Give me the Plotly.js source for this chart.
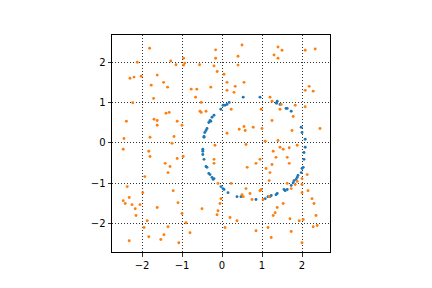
<!DOCTYPE html>
<html>
<head>
<meta charset="utf-8">
<script src="https://cdn.plot.ly/plotly-3.0.1.min.js"></script>
<style>html,body{margin:0;padding:0;background:#fff;}#chart{width:432px;height:288px;}</style>
</head>
<body>
<div id="chart"></div>
<script>
// Blue series: points on a ring
const ringX = [0.53,0.95,0.18,0.125,0.075,0.025,-0.03,-0.2,-0.25,-0.28,-0.3,-0.33,-0.375,-0.4,-0.43,-0.45,-0.45,-0.48,-0.48,-0.48,-0.45,-0.4,-0.375,-0.33,-0.3,-0.25,-0.22,-0.2,-0.025,0.025,0.05,0.15,0.375,0.475,0.85,1.08,1.15,1.2,1.23,1.35,1.38,1.55,1.58,1.63,1.73,1.78,1.8,1.85,1.88,1.9,1.98,2.0,2.03,2.05,2.05,2.08,2.08,2.0,1.98,1.73,1.6,1.63,1.45,1.36,1.38];
const ringY = [1.14,1.14,1.01,0.96,0.94,0.94,0.84,0.69,0.64,0.54,0.56,0.51,0.36,0.31,0.26,0.16,0.14,-0.16,-0.21,-0.29,-0.41,-0.59,-0.61,-0.76,-0.79,-0.86,-0.91,-0.89,-1.09,-1.14,-1.16,-1.24,-1.34,-1.34,-1.41,-1.39,-1.34,-1.34,-1.31,-1.29,-1.26,-1.16,-1.19,-1.16,-1.06,-0.99,-0.94,-0.91,-0.86,-0.81,-0.74,-0.64,-0.61,-0.41,-0.24,-0.11,0.09,0.26,0.39,0.79,0.86,0.86,0.96,0.99,1.04];

// Orange series: scattered points
const scatX = [-1.81,-2.12,-1.28,-1.15,-0.96,-0.93,-0.96,-0.56,-0.16,-0.16,-0.2,-0.12,-2.3,-2.2,-2.02,-1.62,-1.77,-1.46,-1.36,-1.71,-2.23,-0.77,-0.63,-0.66,-0.52,-0.28,0.5,0.4,0.4,0.05,0.125,0.55,0.33,0.125,0.3,1.4,1.5,1.3,1.4,2.08,2.33,2.18,2.08,2.28,1.2,1.25,1.48,1.83,2.08,1.45,0.98,0.23,-2.39,-2.45,-2.47,-1.7,-1.62,-1.62,-1.4,-1.32,-1.12,-1.0,-1.8,-1.2,-1.25,-1.83,-1.8,-1.12,-0.97,-1.42,-1.3,-1.35,-1.93,-0.55,-0.52,-0.4,-0.175,-0.2,-0.2,-0.1,1.78,1.25,1.75,2.45,0.55,0.43,0.58,0.78,1.0,0.125,1.08,1.4,0.6,1.45,1.53,1.68,1.88,1.28,1.63,1.35,0.95,0.85,1.68,0.63,1.25,1.1,1.2,2.13,2.0,1.18,1.63,0.23,-2.37,-1.98,-1.22,-2.32,-2.47,-2.42,-2.25,-2.05,-2.17,-1.62,-1.1,-2.15,-1.0,-1.87,-0.9,-1.95,-1.35,-1.45,-1.83,-1.53,-2.32,-1.08,-0.8,-0.5,-0.1,-0.125,-0.05,0.6,0.98,0.95,0.7,0.5,0.53,0.75,1.03,1.18,-0.025,0.2,0.375,0.075,0.85,1.15,1.23,1.28,1.33,1.38,1.53,1.7,1.73,1.93,2.03,2.0,1.73,1.83,1.88,2.0,2.0,2.15,2.25,2.3,2.35,2.28,2.38];
const scatY = [2.36,2.01,2.04,1.95,2.11,1.99,1.94,1.95,2.32,2.11,1.92,1.78,1.61,1.64,1.66,1.69,1.44,1.51,1.39,1.11,1.0,1.34,1.34,1.14,1.01,1.39,2.44,2.16,1.94,1.71,1.51,1.51,1.41,1.31,1.26,2.39,2.31,2.19,2.11,2.31,2.34,1.41,1.31,1.29,1.14,1.04,0.96,0.94,0.9,0.84,0.84,0.84,0.54,0.11,-0.16,0.59,0.56,0.44,0.74,0.76,0.54,0.44,0.14,0.16,-0.01,-0.21,-0.34,-0.39,-0.34,-0.51,-0.59,-0.74,-0.84,0.79,0.76,0.79,-0.06,-0.41,-0.51,-1.01,0.66,0.56,0.31,0.36,0.41,0.34,0.31,0.39,0.36,0.24,0.04,0.06,-0.04,-0.11,-0.16,-0.12,-0.06,-0.21,-0.36,-0.36,-0.41,-0.51,-0.51,-0.61,-0.54,-0.64,-0.74,-0.79,-0.89,-0.94,-1.01,-1.01,-1.09,-1.24,-1.19,-1.36,-1.44,-1.51,-1.54,-1.54,-1.64,-1.61,-1.49,-1.81,-1.76,-1.94,-1.99,-2.11,-2.09,-2.29,-2.34,-2.41,-2.44,-2.49,-2.24,-1.64,-1.69,-1.79,-1.51,-1.14,-1.16,-1.19,-1.26,-1.29,-1.34,-1.41,-1.41,-1.34,-1.39,-1.86,-1.94,-2.11,-2.19,-2.11,-2.36,-1.81,-1.74,-1.61,-1.51,-1.89,-2.21,-1.94,-1.91,-2.49,-1.14,-1.04,-0.96,-1.04,-1.24,-1.19,-1.39,-1.51,-1.81,-2.09,-2.06];

const tickVals = [-2,-1,0,1,2];
const tickText = ["\u22122","\u22121","0","1","2"];

const mk = (x, y, color) => ({
  x: x, y: y, type: 'scatter', mode: 'markers',
  marker: {color: color, size: 2.9, line: {width: 0}},
  hoverinfo: 'skip'
});

const axisCommon = {
  tickvals: tickVals, ticktext: tickText,
  showgrid: true, gridcolor: '#000', gridwidth: 0.8, griddash: '1px,2px',
  zeroline: false,
  showline: true, mirror: true, linecolor: '#000', linewidth: 1,
  ticks: 'outside', ticklen: 3.5, tickwidth: 0.8, tickcolor: '#000',
  tickfont: {family: 'DejaVu Sans', size: 10, color: '#000'},
  fixedrange: true
};

const layout = {
  width: 432, height: 288,
  margin: {l: 112, r: 102, t: 35, b: 36, pad: 0},
  paper_bgcolor: '#fff', plot_bgcolor: '#fff',
  showlegend: false,
  xaxis: Object.assign({}, axisCommon, {range: [-2.75, 2.70]}),
  yaxis: Object.assign({}, axisCommon, {range: [-2.72, 2.69]})
};

Plotly.newPlot('chart', [mk(ringX, ringY, '#1f77b4'), mk(scatX, scatY, '#ff7f0e')], layout, {staticPlot: true, displayModeBar: false});
</script>
</body>
</html>
